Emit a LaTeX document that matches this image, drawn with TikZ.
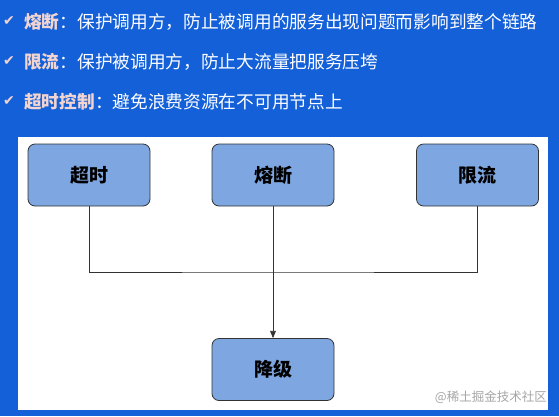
\documentclass[tikz,border=0pt]{standalone}
\usepackage{fontspec}
\setmainfont{Noto Sans CJK SC}
\newfontfamily\symfont{DejaVu Sans}
\usepackage{xcolor}
\usetikzlibrary{arrows.meta,positioning}
\definecolor{bgblue}{HTML}{1460D8}
\definecolor{boxblue}{HTML}{7EA6E0}
\definecolor{keypink}{HTML}{F2D4D0}

\begin{document}
\begin{tikzpicture}[
    x=1pt,y=-1pt,
    box/.style={draw=black!80,line width=0.8pt,rounded corners=7pt,fill=boxblue,minimum width=122pt,minimum height=62pt,font=\fontsize{19}{22}\selectfont\bfseries},
    point/.style={anchor=west,inner sep=0pt,text=white,font=\fontsize{17.7}{21}\selectfont},
    tickmark/.style={anchor=west,inner sep=0pt,text=keypink,font=\symfont\fontsize{14}{16}\selectfont},
    link/.style={draw=black!80,line width=0.7pt},
    arr/.style={link,-{Triangle[length=2.5mm,width=2mm]}}
]
\fill[bgblue] (0,0) rectangle (559,416);
\useasboundingbox (0,0) rectangle (559,416);
\fill[white] (18,137) rectangle (548,410);

% header lines
\node[tickmark] (tick1) at (3,21) {✔};
\node[point] (line1) at (24,22) {{\color{keypink}\bfseries 熔断}：保护调用方，防止被调用的服务出现问题而影响到整个链路};
\node[tickmark] (tick2) at (3,61) {✔};
\node[point] (line2) at (24,62) {{\color{keypink}\bfseries 限流}：保护被调用方，防止大流量把服务压垮};
\node[tickmark] (tick3) at (3,101) {✔};
\node[point] (line3) at (24,102) {{\color{keypink}\bfseries 超时控制}：避免浪费资源在不可用节点上};

% diagram
\node[box] (timeout) at (89,175) {超时};
\node[box] (breaker) at (273,175) {熔断};
\node[box] (limit) at (477.5,175) {限流};
\node[box] (degrade) at (273,369.5) {降级};
\coordinate (merge) at (273,272);
\draw[link] (timeout.south) |- (merge) -| (limit.south);
\draw[arr] (breaker.south) -- (degrade.north);

\node[anchor=east,inner sep=0pt,text=black!35,font=\fontsize{12.5}{14}\selectfont] (mark) at (547,397) {@稀土掘金技术社区};
\end{tikzpicture}
\end{document}
